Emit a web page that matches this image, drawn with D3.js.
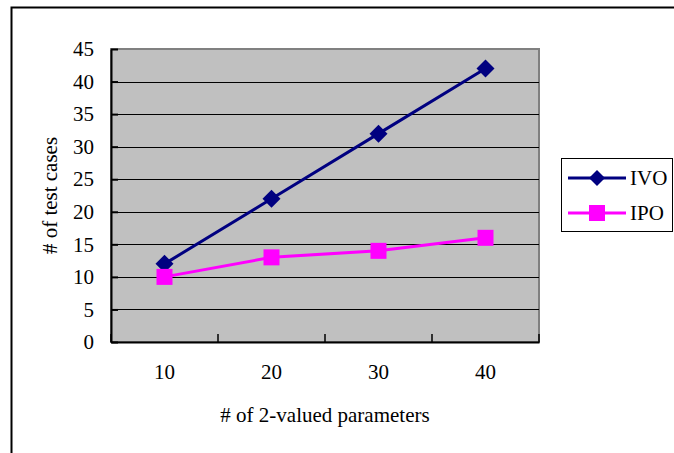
<!DOCTYPE html>
<html>
<head>
<meta charset="utf-8">
<script src="https://cdn.jsdelivr.net/npm/d3@7"></script>
<style>
  body { margin: 0; background: #fff; }
</style>
</head>
<body>
<div id="chart"></div>
<script>
// data
var categories = ["10", "20", "30", "40"];
var ivo = [12, 22, 32, 42];
var ipo = [10, 13, 14, 16];
var yTicks = [0, 5, 10, 15, 20, 25, 30, 35, 40, 45];

var W = 674, H = 453;
var plot = {left: 111, right: 539, top: 49, bottom: 342};
var FONT = "'Liberation Serif'";

var svg = d3.select("#chart")
    .append("svg")
    .attr("width", W)
    .attr("height", H);

// outer chart frame
svg.append("rect")
    .attr("x", 11.5).attr("y", 7.5)
    .attr("width", 700).attr("height", 500)
    .attr("fill", "none")
    .attr("stroke", "#000")
    .attr("stroke-width", 2);

var x = d3.scaleBand()
    .domain(categories)
    .range([plot.left, plot.right])
    .padding(0);

var y = d3.scaleLinear()
    .domain([0, 45])
    .range([plot.bottom, plot.top]);

// plot area
svg.append("rect")
    .attr("x", plot.left).attr("y", plot.top)
    .attr("width", plot.right - plot.left)
    .attr("height", plot.bottom - plot.top)
    .attr("fill", "#c0c0c0")
    .attr("stroke", "#808080")
    .attr("stroke-width", 2);

// gridlines
svg.append("g")
    .selectAll("line")
    .data(yTicks.filter(function(d) { return d > 0 && d < 45; }))
    .enter()
    .append("line")
      .attr("x1", plot.left).attr("x2", plot.right)
      .attr("y1", function(d) { return Math.round(y(d)) + 0.5; })
      .attr("y2", function(d) { return Math.round(y(d)) + 0.5; })
      .attr("stroke", "#000")
      .attr("stroke-width", 1);

// y axis
var yAxis = svg.append("g")
    .attr("transform", "translate(" + plot.left + ",0)")
    .call(d3.axisLeft(y).tickValues(yTicks).tickSizeInner(-7).tickSizeOuter(0).tickPadding(17));
yAxis.attr("font-family", null).attr("font-size", null);
yAxis.select(".domain").attr("stroke", "#000").attr("stroke-width", 2);
yAxis.selectAll(".tick line").attr("stroke", "#000").attr("stroke-width", 2);
yAxis.selectAll(".tick text")
    .style("font-size", "21px")
    .style("font-family", FONT)
    .attr("fill", "#000");

// x axis
var xAxis = svg.append("g")
    .attr("transform", "translate(0," + plot.bottom + ")")
    .call(d3.axisBottom(x).tickSize(0).tickPadding(22));
xAxis.attr("font-family", null).attr("font-size", null);
xAxis.select(".domain").attr("stroke", "#000").attr("stroke-width", 2);
xAxis.selectAll(".tick text")
    .style("font-size", "21px")
    .style("font-family", FONT)
    .attr("fill", "#000");

// tick marks between categories (inside)
var bounds = categories.map(function(c) { return x(c); }).concat([x(categories[3]) + x.bandwidth()]);
svg.append("g")
    .selectAll("line")
    .data(bounds)
    .enter()
    .append("line")
      .attr("x1", function(d) { return d; })
      .attr("x2", function(d) { return d; })
      .attr("y1", plot.bottom).attr("y2", plot.bottom - 8)
      .attr("stroke", "#000")
      .attr("stroke-width", 1.5);

// axis titles
svg.append("text")
    .attr("x", (plot.left + plot.right) / 2)
    .attr("y", 422)
    .attr("text-anchor", "middle")
    .style("font-size", "21px")
    .style("font-family", FONT)
    .text("# of 2-valued parameters");

svg.append("text")
    .attr("transform", "translate(57," + ((plot.top + plot.bottom) / 2) + ") rotate(-90)")
    .attr("text-anchor", "middle")
    .style("font-size", "21px")
    .style("font-family", FONT)
    .text("# of test cases");

var cx = function(d, i) { return x(categories[i]) + x.bandwidth() / 2; };
var line = d3.line()
    .x(function(d, i) { return x(categories[i]) + x.bandwidth() / 2; })
    .y(function(d) { return y(d); });

// IVO series
svg.append("path")
    .datum(ivo)
    .attr("d", line)
    .attr("fill", "none")
    .attr("stroke", "#000080")
    .attr("stroke-width", 3);
svg.append("g")
    .selectAll("path")
    .data(ivo)
    .enter()
    .append("path")
      .attr("d", "M0,-9L9,0L0,9L-9,0Z")
      .attr("transform", function(d, i) { return "translate(" + cx(d, i) + "," + y(d) + ")"; })
      .attr("fill", "#000080");

// IPO series
svg.append("path")
    .datum(ipo)
    .attr("d", line)
    .attr("fill", "none")
    .attr("stroke", "#ff00ff")
    .attr("stroke-width", 3);
svg.append("g")
    .selectAll("rect")
    .data(ipo)
    .enter()
    .append("rect")
      .attr("x", function(d, i) { return cx(d, i) - 8; })
      .attr("y", function(d) { return y(d) - 8; })
      .attr("width", 16).attr("height", 16)
      .attr("fill", "#ff00ff");

// legend
var legend = svg.append("g");
legend.append("rect")
    .attr("x", 561.5).attr("y", 158.5)
    .attr("width", 111).attr("height", 73)
    .attr("fill", "#fff")
    .attr("stroke", "#000")
    .attr("stroke-width", 1);

var legendItems = [
  {name: "IVO", color: "#000080", shape: "diamond", y: 178},
  {name: "IPO", color: "#ff00ff", shape: "square", y: 213}
];
legendItems.forEach(function(it) {
  legend.append("line")
      .attr("x1", 568).attr("x2", 626)
      .attr("y1", it.y).attr("y2", it.y)
      .attr("stroke", it.color)
      .attr("stroke-width", 3);
  if (it.shape === "diamond") {
    legend.append("path")
        .attr("d", "M0,-8L8,0L0,8L-8,0Z")
        .attr("transform", "translate(597," + it.y + ")")
        .attr("fill", it.color);
  } else {
    legend.append("rect")
        .attr("x", 589).attr("y", it.y - 8)
        .attr("width", 16).attr("height", 16)
        .attr("fill", it.color);
  }
  legend.append("text")
      .attr("x", 630)
      .attr("y", it.y + 7)
      .style("font-size", "21px")
      .style("font-family", FONT)
      .text(it.name);
});
</script>
</body>
</html>
